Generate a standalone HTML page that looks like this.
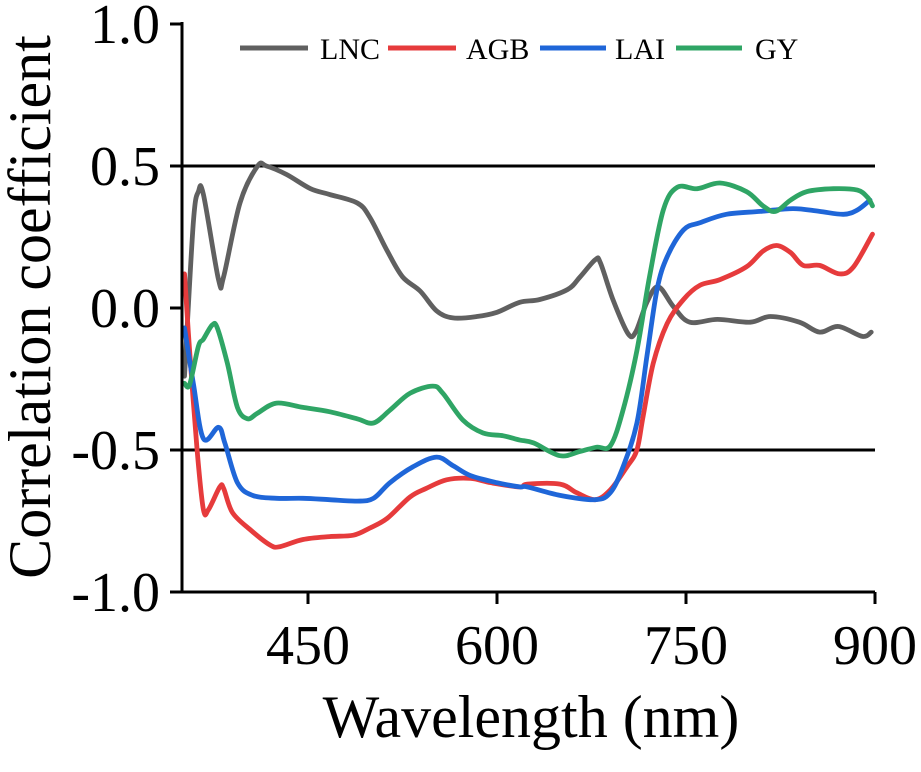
<!DOCTYPE html>
<html><head><meta charset="utf-8"><style>
html,body{margin:0;padding:0;background:#fff;width:921px;height:772px;overflow:hidden}
svg{display:block;font-family:"Liberation Serif",serif}
</style></head><body>
<svg id="chart" width="921" height="772" viewBox="0 0 921 772"></svg>
<script>
const xTicks=[450,600,750,900];
const yTicks=[1.0,0.5,0.0,-0.5,-1.0];
const yTickLabels=["1.0","0.5","0.0","-0.5","-1.0"];
const refLines=[0.5,-0.5];
const seriesNames=["LNC","AGB","LAI","GY"];
const seriesColors=["#606060","#e63b3c","#1f66d8","#2fa565"];
const lncWl=[352,359,363,367,379,383,396,410,417,433,452,467,489,499,513,525,539,552,565,584,600,618,634,656,666,678,682,692,704,710,719,728,740,753,775,801,817,840,856,871,890,897];
const lncVal=[-0.24,0.30,0.41,0.40,0.10,0.11,0.37,0.50,0.50,0.47,0.42,0.40,0.37,0.32,0.20,0.11,0.06,-0.01,-0.035,-0.03,-0.015,0.02,0.03,0.065,0.11,0.17,0.16,0.03,-0.09,-0.085,0.02,0.075,0.005,-0.05,-0.04,-0.05,-0.03,-0.05,-0.085,-0.065,-0.10,-0.085];
const agbWl=[352,356,362,367,371,380,383,390,404,420,428,446,467,486,499,513,531,544,560,579,595,618,624,650,663,678,690,703,711,716,724,735,748,761,777,798,811,822,833,843,856,872,883,898];
const agbVal=[0.12,-0.15,-0.5,-0.71,-0.71,-0.63,-0.635,-0.72,-0.78,-0.835,-0.84,-0.815,-0.805,-0.80,-0.775,-0.74,-0.665,-0.635,-0.605,-0.60,-0.615,-0.63,-0.62,-0.62,-0.65,-0.675,-0.64,-0.56,-0.50,-0.38,-0.195,-0.055,0.03,0.08,0.10,0.145,0.20,0.22,0.195,0.15,0.15,0.12,0.145,0.26];
const laiWl=[352,359,367,379,384,394,406,425,446,467,489,502,515,533,552,565,579,600,618,624,650,678,690,700,711,719,727,735,748,761,782,809,835,856,875,886,896];
const laiVal=[-0.07,-0.265,-0.46,-0.42,-0.475,-0.615,-0.66,-0.67,-0.67,-0.675,-0.68,-0.67,-0.615,-0.56,-0.525,-0.555,-0.59,-0.615,-0.63,-0.63,-0.66,-0.675,-0.65,-0.56,-0.405,-0.17,0.065,0.18,0.275,0.30,0.33,0.34,0.35,0.34,0.33,0.345,0.38];
const gyWl=[352,356,363,367,374,378,386,394,402,410,425,446,467,489,502,515,531,549,557,573,589,605,618,629,650,666,679,690,700,711,721,732,743,759,777,798,811,821,833,846,867,886,894,898];
const gyVal=[-0.265,-0.27,-0.135,-0.11,-0.06,-0.07,-0.195,-0.35,-0.39,-0.37,-0.335,-0.35,-0.365,-0.39,-0.405,-0.36,-0.30,-0.275,-0.30,-0.395,-0.44,-0.45,-0.465,-0.475,-0.52,-0.505,-0.49,-0.485,-0.36,-0.15,0.11,0.345,0.425,0.42,0.44,0.41,0.36,0.34,0.38,0.41,0.42,0.415,0.39,0.36];

const X0=182,X1=875,WMIN=350,WMAX=900;
const Y0=592,Y1=24;
function sx(w){return X0+(w-WMIN)*(X1-X0)/(WMAX-WMIN);}
function sy(v){return Y0-(v+1)*(Y0-Y1)/2;}
const NS="http://www.w3.org/2000/svg";
const svg=document.getElementById('chart');
function mk(tag,attrs,parent){const e=document.createElementNS(NS,tag);for(const k in attrs)e.setAttribute(k,attrs[k]);(parent||svg).appendChild(e);return e;}
function smooth(p){
  let d=`M${p[0][0].toFixed(1)},${p[0][1].toFixed(1)}`;
  for(let i=0;i<p.length-1;i++){
    const a=p[Math.max(0,i-1)],b=p[i],c=p[i+1],e=p[Math.min(p.length-1,i+2)];
    const c1=[b[0]+(c[0]-a[0])/6,b[1]+(c[1]-a[1])/6],c2=[c[0]-(e[0]-b[0])/6,c[1]-(e[1]-b[1])/6];
    d+=`C${c1[0].toFixed(1)},${c1[1].toFixed(1)} ${c2[0].toFixed(1)},${c2[1].toFixed(1)} ${c[0].toFixed(1)},${c[1].toFixed(1)}`;
  }
  return d;
}

refLines.forEach(v=>{
  const l=mk('line',{x1:X0,x2:X1,y1:sy(v),y2:sy(v),stroke:'#000','stroke-width':3});
  
  
});
const allWl=[lncWl,agbWl,laiWl,gyWl],allVal=[lncVal,agbVal,laiVal,gyVal];
for(let s=0;s<4;s++){
  const pts=allWl[s].map((w,i)=>[sx(w),sy(allVal[s][i])]);
  const p=mk('path',{d:smooth(pts),fill:'none',stroke:seriesColors[s],'stroke-width':4.8,'stroke-linejoin':'round','stroke-linecap':'round'});
  
  
}
const ax=mk('path',{d:`M${X0},${Y1-2}V${Y0}H${X1}`,fill:'none',stroke:'#000','stroke-width':3});


yTicks.forEach((v,i)=>{
  mk('line',{x1:X0-12,x2:X0,y1:sy(v),y2:sy(v),stroke:'#000','stroke-width':3});
  const t=mk('text',{x:160,y:sy(v)+19,'text-anchor':'end','font-size':56});
  t.textContent=yTickLabels[i];
  
  
});
xTicks.forEach(w=>{
  mk('line',{x1:sx(w),x2:sx(w),y1:Y0,y2:Y0+12,stroke:'#000','stroke-width':3});
  const t=mk('text',{x:sx(w),y:664,'text-anchor':'middle','font-size':56});
  t.textContent=String(w);
  
  
});
const yt=mk('text',{x:0,y:0,'text-anchor':'middle','font-size':60,transform:'translate(50,307) rotate(-90)'});
yt.textContent='Correlation coefficient';


const xt=mk('text',{x:531,y:737,'text-anchor':'middle','font-size':60});
xt.textContent='Wavelength (nm)';


const legX=[[240,308,320],[388,456,466],[540,606,615],[676,742,755]];
for(let s=0;s<4;s++){
  const g=mk('g',{});
  
  
  mk('line',{x1:legX[s][0],x2:legX[s][1],y1:48,y2:48,stroke:seriesColors[s],'stroke-width':5},g);
  const t=mk('text',{x:legX[s][2],y:59,'font-size':30},g);
  t.textContent=seriesNames[s];
}
</script>
</body></html>
